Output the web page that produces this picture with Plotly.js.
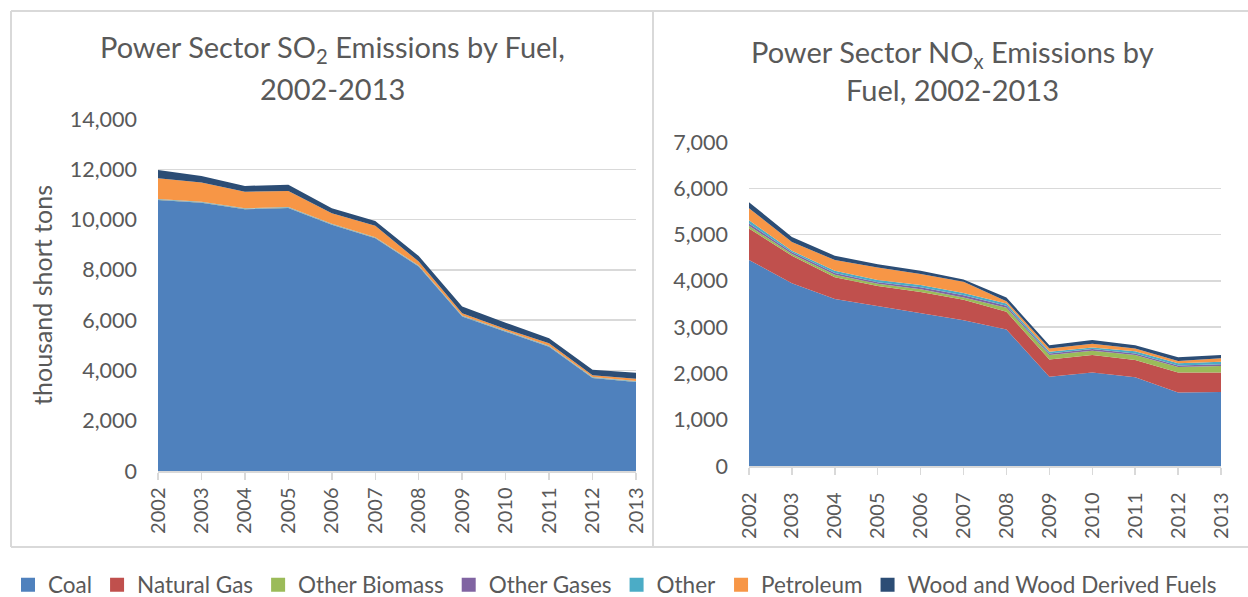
<!DOCTYPE html>
<html>
<head>
<meta charset="utf-8">
<script src="https://cdn.plot.ly/plotly-3.0.1.min.js"></script>
<style>html,body{margin:0;padding:0;background:#fff;}#chart{width:1248px;height:597px;}</style>
</head>
<body>
<div id="chart"></div>
<script>
// ---- Data (thousand short tons) ----
var years = ['2002','2003','2004','2005','2006','2007','2008','2009','2010','2011','2012','2013'];
var seriesNames = ['Coal','Natural Gas','Other Biomass','Other Gases','Other','Petroleum','Wood and Wood Derived Fuels'];
var seriesColors = ['#4F81BD','#C0504D','#9BBB59','#8064A2','#4BACC6','#F79646','#2C4D75'];

// SO2 emissions by fuel
var so2Coal      = [10780, 10670, 10410, 10460, 9790, 9260, 8130, 6140, 5540, 4940, 3700, 3540];
var so2Gas       = [3, 3, 3, 3, 3, 3, 3, 3, 3, 3, 3, 3];
var so2Biomass   = [10, 10, 10, 10, 10, 10, 10, 10, 10, 10, 10, 10];
var so2OtherGas  = [7, 7, 7, 7, 7, 7, 7, 7, 7, 7, 7, 7];
var so2Other     = [20, 20, 20, 20, 20, 20, 20, 20, 20, 20, 20, 20];
var so2Petroleum = [820, 760, 660, 640, 420, 450, 160, 90, 70, 100, 70, 90];
var so2Wood      = [330, 260, 230, 240, 200, 190, 220, 270, 250, 200, 220, 240];

// NOx emissions by fuel
var noxCoal      = [4450, 3950, 3610, 3460, 3300, 3150, 2950, 1930, 2020, 1920, 1590, 1600];
var noxGas       = [680, 590, 470, 430, 460, 440, 380, 370, 380, 370, 430, 420];
var noxBiomass   = [60, 40, 50, 50, 60, 50, 90, 100, 90, 110, 120, 140];
var noxOtherGas  = [50, 40, 40, 30, 40, 50, 40, 30, 40, 30, 30, 40];
var noxOther     = [70, 30, 50, 50, 50, 50, 50, 40, 30, 50, 50, 50];
var noxPetroleum = [260, 190, 230, 270, 240, 240, 50, 70, 80, 60, 50, 80];
var noxWood      = [130, 110, 90, 70, 70, 50, 80, 70, 80, 70, 80, 70];

// Titles / labels (each chart title in two lines)
var so2TitleLines = ['Power Sector SO<sub>2</sub> Emissions by Fuel,', '2002-2013'];
var noxTitleLines = ['Power Sector NO<sub>x</sub> Emissions by', 'Fuel, 2002-2013'];
var yLabel = 'thousand short tons';
var figHeading = '<b>Figure 3. SO<sub>2</sub> and NO<sub>x</sub> Emissions by Fuel, 2002-2013</b>';

var so2Series = [so2Coal, so2Gas, so2Biomass, so2OtherGas, so2Other, so2Petroleum, so2Wood];
var noxSeries = [noxCoal, noxGas, noxBiomass, noxOtherGas, noxOther, noxPetroleum, noxWood];

// ---- Build ----
var W = 1248, H = 597;
function px(x){ return x / W; }
function py(y){ return 1 - y / H; }

var FONT = 'Lato, "Open Sans", sans-serif';
var GREY = '#595959';
var LINE = '#d9d9d9';

var traces = [];
seriesNames.forEach(function(name, i){
  traces.push({
    x: years, y: so2Series[i], name: name, type: 'scatter', mode: 'lines',
    stackgroup: 'so2', fillcolor: seriesColors[i], line: {width: 0, color: seriesColors[i]},
    xaxis: 'x', yaxis: 'y', showlegend: false, hoverinfo: 'x+y+name'
  });
});
seriesNames.forEach(function(name, i){
  traces.push({
    x: years, y: noxSeries[i], name: name, type: 'scatter', mode: 'lines',
    stackgroup: 'nox', fillcolor: seriesColors[i], line: {width: 0, color: seriesColors[i]},
    xaxis: 'x2', yaxis: 'y2', showlegend: false, hoverinfo: 'x+y+name'
  });
});
// legend entries (square swatches)
seriesNames.forEach(function(name, i){
  traces.push({
    x: [null], y: [null], name: name, type: 'scatter', mode: 'markers',
    marker: {symbol: 'square', size: 14, color: seriesColors[i]},
    xaxis: 'x', yaxis: 'y', showlegend: true, hoverinfo: 'skip'
  });
});

var xCommon = {
  type: 'category', range: [0, years.length - 1], tickangle: -90,
  tickfont: {family: FONT, size: 20, color: GREY},
  ticks: 'outside', ticklen: 7, tickcolor: LINE, tickwidth: 1.5,
  showline: true, linecolor: LINE, linewidth: 1.5,
  showgrid: false, zeroline: false, fixedrange: true
};
var yCommon = {
  tickfont: {family: FONT, size: 21.5, color: GREY},
  showgrid: true, gridcolor: LINE, gridwidth: 1.5,
  zeroline: false, showline: false, ticks: '', tickformat: ',d',
  ticklabelstandoff: 20, fixedrange: true
};

function titleAnn(text, xc, yc){
  return {text: text, xref: 'paper', yref: 'paper', x: px(xc), y: py(yc), xanchor: 'center', yanchor: 'middle',
          showarrow: false, font: {family: FONT, size: 29, color: GREY}};
}

var layout = {
  width: W, height: H,
  margin: {l: 0, r: 0, t: 0, b: 0, autoexpand: false},
  paper_bgcolor: '#ffffff', plot_bgcolor: '#ffffff',
  font: {family: FONT, color: GREY},
  showlegend: true,
  legend: {
    orientation: 'h', traceorder: 'normal', xref: 'container', yref: 'container',
    x: 8 / W, xanchor: 'left', y: 1 - 585 / H, yanchor: 'middle',
    font: {family: FONT, size: 22.5, color: GREY}, itemwidth: 30, bgcolor: 'rgba(0,0,0,0)'
  },
  xaxis: Object.assign({}, xCommon, {domain: [px(158), px(636)], anchor: 'y', ticklabelstandoff: 0}),
  yaxis: Object.assign({}, yCommon, {domain: [py(471), py(119)], range: [0, 14000], dtick: 2000, anchor: 'x',
    title: {text: yLabel, font: {family: FONT, size: 25, color: GREY}, standoff: 10}}),
  xaxis2: Object.assign({}, xCommon, {domain: [px(749), px(1221)], anchor: 'y2', ticklabelstandoff: 10}),
  yaxis2: Object.assign({}, yCommon, {domain: [py(466), py(142)], range: [0, 7000], dtick: 1000, anchor: 'x2'}),
  annotations: [
    titleAnn(so2TitleLines[0], 332, 48),
    titleAnn(so2TitleLines[1], 332, 89),
    titleAnn(noxTitleLines[0], 953, 54),
    titleAnn(noxTitleLines[1], 953, 90),
    {text: figHeading, xref: 'paper', yref: 'paper', x: px(14), y: py(-10), xanchor: 'left', yanchor: 'middle',
     showarrow: false, font: {family: '"Liberation Sans", Arial, sans-serif', size: 20, color: '#000000'}}
  ],
  shapes: [
    {type: 'line', xref: 'paper', yref: 'paper', x0: px(11), x1: px(1248), y0: py(11), y1: py(11), line: {color: LINE, width: 2}},
    {type: 'line', xref: 'paper', yref: 'paper', x0: px(11), x1: px(1248), y0: py(547), y1: py(547), line: {color: LINE, width: 2}},
    {type: 'line', xref: 'paper', yref: 'paper', x0: px(11), x1: px(11), y0: py(11), y1: py(547), line: {color: LINE, width: 2}},
    {type: 'line', xref: 'paper', yref: 'paper', x0: px(653), x1: px(653), y0: py(11), y1: py(547), line: {color: LINE, width: 2}}
  ]
};

Plotly.newPlot('chart', traces, layout, {displayModeBar: false, staticPlot: true});
</script>
</body>
</html>
